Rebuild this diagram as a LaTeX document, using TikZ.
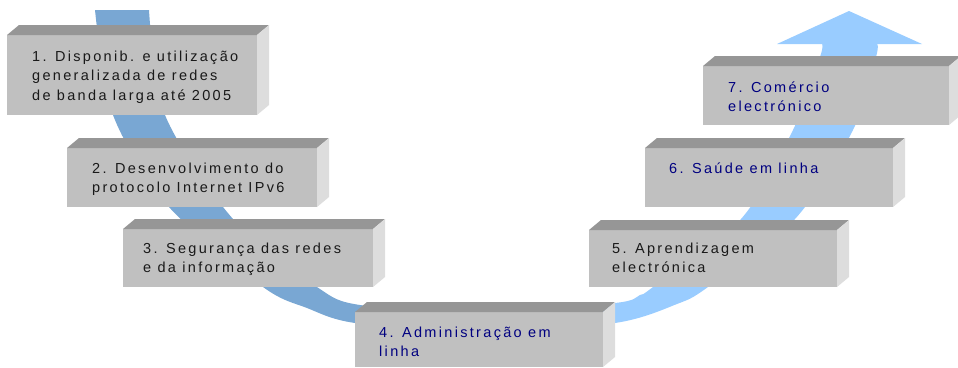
\documentclass[tikz,border=0pt]{standalone}
\usepackage{fontspec}
\setmainfont{Liberation Sans}
\newfontfamily\boxfont[LetterSpace=16]{Liberation Sans}
\definecolor{bandDark}{RGB}{121,167,211}
\definecolor{bandLight}{RGB}{153,204,255}
\definecolor{frontGray}{RGB}{192,192,192}
\definecolor{topGray}{RGB}{150,150,150}
\definecolor{sideGray}{RGB}{221,221,221}
\definecolor{txtDark}{RGB}{25,25,25}
\definecolor{txtNavy}{RGB}{0,0,128}
\newcommand\stepbox[5]{%
  \node[frontface, anchor=north west, minimum width={#4pt-#2pt}, minimum height={#5pt-#3pt}] (#1) at (#2,#3) {};
  \fill[topGray] (#1.north west) -- ++(12,-10) -- ([shift={(12,-10)}]#1.north east) -- (#1.north east) -- cycle;
  \fill[sideGray] (#1.north east) -- ++(12,-10) -- ([shift={(12,-10)}]#1.south east) -- (#1.south east) -- cycle;
}
\begin{document}
\begin{tikzpicture}[x=1pt,y=-1pt,
  frontface/.style={fill=frontGray, inner sep=0pt, outer sep=0pt},
  lbl/.style={anchor=north west, inner sep=0pt, align=left, font=\boxfont\fontsize{14.5}{19.5}\selectfont},
  lblDark/.style={lbl, text=txtDark},
  lblNavy/.style={lbl, text=txtNavy}]
\useasboundingbox (0,0) rectangle (958,367);
% band, left (darker) part
\fill[bandDark] plot[smooth, tension=0.5] coordinates {(95,10) (113,115) (169,207) (263,287) (307,308) (355,323) (480,333)}
  -- plot[smooth, tension=0.5] coordinates {(480,313) (360,305) (317,287) (233,219) (165,115) (149,10)} -- cycle;
% band, right (lighter) part with arrowhead
\fill[bandLight] plot[smooth, tension=0.5] coordinates {(478,333) (615,323) (677,304) (708,287) (795,219) (853,130) (876,57) (877,44)}
  -- (922,44) -- (849,11) -- (777,44) --
  plot[smooth, tension=0.5] coordinates {(822,44) (820,57) (793,130) (741,219) (653,287) (640,295) (615,303) (478,313)} -- cycle;
% boxes
\stepbox{b1}{7}{35}{257}{115}
\stepbox{b2}{67}{148}{317}{207}
\stepbox{b3}{123}{229}{373}{287}
\stepbox{b4}{355}{312}{603}{367}
\stepbox{b5}{589}{230}{837}{287}
\stepbox{b6}{645}{148}{893}{207}
\stepbox{b7}{703}{66}{949}{125}
% labels
\node[lblDark] (t1) at (32,50.5) {1. Disponib. e utilização\\generalizada de redes\\de banda larga até 2005};
\node[lblDark] (t2) at (92,162.5) {2. Desenvolvimento do\\protocolo Internet IPv6};
\node[lblDark] (t3) at (143,242.5) {3. Segurança das redes\\e da informação};
\node[lblNavy] (t4) at (379,326.5) {4. Administração em\\linha};
\node[lblDark] (t5) at (612,242.5) {5. Aprendizagem\\electrónica};
\node[lblNavy] (t6) at (669,162.5) {6. Saúde em linha};
\node[lblNavy] (t7) at (728,81.5) {7. Comércio\\electrónico};
\end{tikzpicture}
\end{document}
